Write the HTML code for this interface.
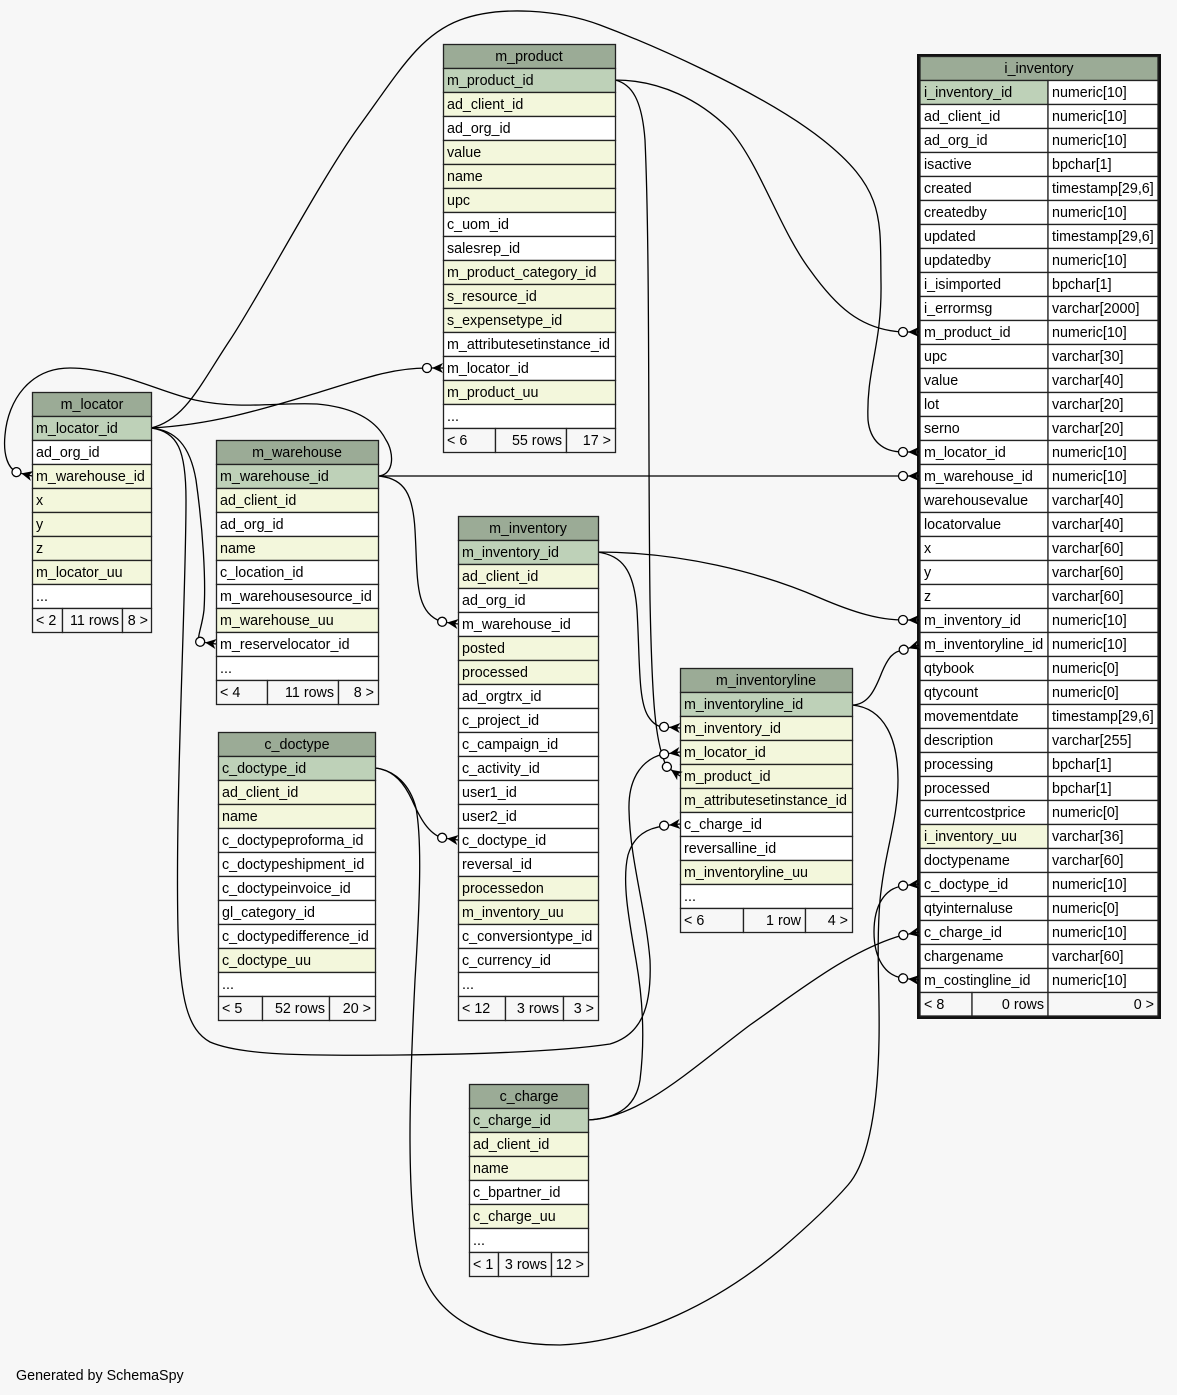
<!DOCTYPE html>
<html><head><meta charset="utf-8"><style>
html,body{margin:0;padding:0;background:#f7f7f7;}
svg{display:block;}
text{font-family:"Liberation Sans",Arial,Helvetica,sans-serif;font-size:14.3px;fill:#000;}
.h{fill:#9bab96;stroke:#222;stroke-width:1.3}
.p{fill:#bed1b8;stroke:#222;stroke-width:1.3}
.y{fill:#f3f7dc;stroke:#222;stroke-width:1.3}
.w{fill:#ffffff;stroke:#222;stroke-width:1.3}
.f{fill:#f7f7f7;stroke:#222;stroke-width:1.3}
.e{fill:none;stroke:#000;stroke-width:1.3}
.c{text-anchor:middle}
.r{text-anchor:end}
</style></head><body>
<svg width="1177" height="1395" viewBox="0 0 1177 1395" xmlns="http://www.w3.org/2000/svg">
<defs>
<g id="cf">
<line x1="-11" y1="0" x2="0" y2="0" stroke="#000" stroke-width="1.3"/>
<polygon points="0,-5 -11,0 0,5 -3,0" fill="#000"/>
<circle cx="-16" cy="0" r="4.5" fill="#fff" stroke="#000" stroke-width="1.3"/>
</g>
</defs>
<rect width="1177" height="1395" fill="#f7f7f7"/>

<!-- edges -->
<path class="e" d="M151,428 C185,420 200,385 230,340 S320,180 360,125 S420,35 460,20 S560,10 600,25 S760,90 823,140 S880,220 881,283 S866,370 868,420 C870,440 882,452 903,452"/>
<path class="e" d="M615,80 C660,80 700,100 730,130 C760,165 780,230 810,270 C835,305 860,330 903,332"/>
<path class="e" d="M615,80 C632,84 642,100 645,140 C650,250 648,450 650,600 C652,700 655,745 667,767"/>
<path class="e" d="M151,428 C210,425 260,410 310,395 C360,380 390,368 427,368"/>
<path class="e" d="M378,476 C395,475 394,452 386,440 C375,418 350,407 317,404 C280,402 240,410 195,400 C160,392 115,368 70,368 C30,368 8,400 5,435 C3,455 8,468 16.5,472"/>
<path class="e" d="M378,476 L903,476"/>
<path class="e" d="M378,476 C405,478 413,495 415,530 C418,580 414,612 442,622"/>
<path class="e" d="M151,428 C175,430 190,445 196,480 C203,530 206,580 204,610 C202,628 196,638 200,642"/>
<path class="e" d="M151,428 C178,432 186,450 186,500 C186,600 175,800 178,930 C180,1000 188,1030 210,1042 C240,1055 300,1056 400,1055 C500,1054 570,1050 610,1044 C640,1035 652,1010 650,960 C646,910 630,860 629,810 C628,775 645,758 664,754"/>
<path class="e" d="M375,768 C395,770 405,785 412,800 C420,818 428,833 442,838"/>
<path class="e" d="M375,768 C395,770 410,785 416,808 C422,840 420,900 415,980 C410,1080 405,1200 420,1265 C435,1320 490,1345 560,1345 C640,1342 720,1300 780,1250 C815,1220 835,1200 848,1185 C870,1160 878,1100 879,1040 C880,990 876,950 880,900 C885,850 898,820 898,780 C898,740 885,708 852,705"/>
<path class="e" d="M903,886 C885,888 874,905 874,932 C874,958 885,976 903,978"/>
<path class="e" d="M852,705 C868,705 875,690 882,672 C888,658 893,651 904,650"/>
<path class="e" d="M597,552 C680,552 760,572 820,598 C855,613 880,620 903,620"/>
<path class="e" d="M597,552 C622,555 634,570 637,610 C640,660 638,700 648,716 C653,724 658,727 664,727"/>
<path class="e" d="M588,1120 C640,1118 690,1070 750,1025 C800,990 850,950 903,935"/>
<path class="e" d="M588,1120 C620,1118 636,1105 640,1080 C645,1040 643,1000 636,960 C628,915 622,880 628,855 C634,835 648,828 664,826"/>

<!-- m_product -->
<rect class="h" x="443.5" y="44.5" width="172" height="24"/><text class="c" x="529" y="61">m_product</text>
<rect class="p" x="443.5" y="68.5" width="172" height="24"/><text x="447" y="85">m_product_id</text>
<rect class="y" x="443.5" y="92.5" width="172" height="24"/><text x="447" y="109">ad_client_id</text>
<rect class="w" x="443.5" y="116.5" width="172" height="24"/><text x="447" y="133">ad_org_id</text>
<rect class="y" x="443.5" y="140.5" width="172" height="24"/><text x="447" y="157">value</text>
<rect class="y" x="443.5" y="164.5" width="172" height="24"/><text x="447" y="181">name</text>
<rect class="y" x="443.5" y="188.5" width="172" height="24"/><text x="447" y="205">upc</text>
<rect class="w" x="443.5" y="212.5" width="172" height="24"/><text x="447" y="229">c_uom_id</text>
<rect class="w" x="443.5" y="236.5" width="172" height="24"/><text x="447" y="253">salesrep_id</text>
<rect class="y" x="443.5" y="260.5" width="172" height="24"/><text x="447" y="277">m_product_category_id</text>
<rect class="y" x="443.5" y="284.5" width="172" height="24"/><text x="447" y="301">s_resource_id</text>
<rect class="y" x="443.5" y="308.5" width="172" height="24"/><text x="447" y="325">s_expensetype_id</text>
<rect class="w" x="443.5" y="332.5" width="172" height="24"/><text x="447" y="349">m_attributesetinstance_id</text>
<rect class="w" x="443.5" y="356.5" width="172" height="24"/><text x="447" y="373">m_locator_id</text>
<rect class="y" x="443.5" y="380.5" width="172" height="24"/><text x="447" y="397">m_product_uu</text>
<rect class="w" x="443.5" y="404.5" width="172" height="24"/><text x="447" y="421">...</text>
<rect class="f" x="443.5" y="428.5" width="52" height="24"/><rect class="f" x="495.5" y="428.5" width="71" height="24"/><rect class="f" x="566.5" y="428.5" width="49" height="24"/>
<text x="447" y="445">&lt; 6</text><text class="r" x="562" y="445">55 rows</text><text class="r" x="611" y="445">17 &gt;</text>

<!-- m_locator -->
<rect class="h" x="32.5" y="392.5" width="119" height="24"/><text class="c" x="92" y="409">m_locator</text>
<rect class="p" x="32.5" y="416.5" width="119" height="24"/><text x="36" y="433">m_locator_id</text>
<rect class="w" x="32.5" y="440.5" width="119" height="24"/><text x="36" y="457">ad_org_id</text>
<rect class="y" x="32.5" y="464.5" width="119" height="24"/><text x="36" y="481">m_warehouse_id</text>
<rect class="y" x="32.5" y="488.5" width="119" height="24"/><text x="36" y="505">x</text>
<rect class="y" x="32.5" y="512.5" width="119" height="24"/><text x="36" y="529">y</text>
<rect class="y" x="32.5" y="536.5" width="119" height="24"/><text x="36" y="553">z</text>
<rect class="y" x="32.5" y="560.5" width="119" height="24"/><text x="36" y="577">m_locator_uu</text>
<rect class="w" x="32.5" y="584.5" width="119" height="24"/><text x="36" y="601">...</text>
<rect class="f" x="32.5" y="608.5" width="30" height="24"/><rect class="f" x="62.5" y="608.5" width="60" height="24"/><rect class="f" x="122.5" y="608.5" width="29" height="24"/>
<text x="36" y="625">&lt; 2</text><text class="r" x="119" y="625">11 rows</text><text class="r" x="148" y="625">8 &gt;</text>

<!-- m_warehouse -->
<rect class="h" x="216.5" y="440.5" width="162" height="24"/><text class="c" x="297" y="457">m_warehouse</text>
<rect class="p" x="216.5" y="464.5" width="162" height="24"/><text x="220" y="481">m_warehouse_id</text>
<rect class="y" x="216.5" y="488.5" width="162" height="24"/><text x="220" y="505">ad_client_id</text>
<rect class="w" x="216.5" y="512.5" width="162" height="24"/><text x="220" y="529">ad_org_id</text>
<rect class="y" x="216.5" y="536.5" width="162" height="24"/><text x="220" y="553">name</text>
<rect class="w" x="216.5" y="560.5" width="162" height="24"/><text x="220" y="577">c_location_id</text>
<rect class="w" x="216.5" y="584.5" width="162" height="24"/><text x="220" y="601">m_warehousesource_id</text>
<rect class="y" x="216.5" y="608.5" width="162" height="24"/><text x="220" y="625">m_warehouse_uu</text>
<rect class="w" x="216.5" y="632.5" width="162" height="24"/><text x="220" y="649">m_reservelocator_id</text>
<rect class="w" x="216.5" y="656.5" width="162" height="24"/><text x="220" y="673">...</text>
<rect class="f" x="216.5" y="680.5" width="51" height="24"/><rect class="f" x="267.5" y="680.5" width="71" height="24"/><rect class="f" x="338.5" y="680.5" width="40" height="24"/>
<text x="220" y="697">&lt; 4</text><text class="r" x="334" y="697">11 rows</text><text class="r" x="374" y="697">8 &gt;</text>

<!-- m_inventory -->
<rect class="h" x="458.5" y="516.5" width="140" height="24"/><text class="c" x="528" y="533">m_inventory</text>
<rect class="p" x="458.5" y="540.5" width="140" height="24"/><text x="462" y="557">m_inventory_id</text>
<rect class="y" x="458.5" y="564.5" width="140" height="24"/><text x="462" y="581">ad_client_id</text>
<rect class="w" x="458.5" y="588.5" width="140" height="24"/><text x="462" y="605">ad_org_id</text>
<rect class="w" x="458.5" y="612.5" width="140" height="24"/><text x="462" y="629">m_warehouse_id</text>
<rect class="y" x="458.5" y="636.5" width="140" height="24"/><text x="462" y="653">posted</text>
<rect class="y" x="458.5" y="660.5" width="140" height="24"/><text x="462" y="677">processed</text>
<rect class="w" x="458.5" y="684.5" width="140" height="24"/><text x="462" y="701">ad_orgtrx_id</text>
<rect class="w" x="458.5" y="708.5" width="140" height="24"/><text x="462" y="725">c_project_id</text>
<rect class="w" x="458.5" y="732.5" width="140" height="24"/><text x="462" y="749">c_campaign_id</text>
<rect class="w" x="458.5" y="756.5" width="140" height="24"/><text x="462" y="773">c_activity_id</text>
<rect class="w" x="458.5" y="780.5" width="140" height="24"/><text x="462" y="797">user1_id</text>
<rect class="w" x="458.5" y="804.5" width="140" height="24"/><text x="462" y="821">user2_id</text>
<rect class="w" x="458.5" y="828.5" width="140" height="24"/><text x="462" y="845">c_doctype_id</text>
<rect class="w" x="458.5" y="852.5" width="140" height="24"/><text x="462" y="869">reversal_id</text>
<rect class="y" x="458.5" y="876.5" width="140" height="24"/><text x="462" y="893">processedon</text>
<rect class="y" x="458.5" y="900.5" width="140" height="24"/><text x="462" y="917">m_inventory_uu</text>
<rect class="w" x="458.5" y="924.5" width="140" height="24"/><text x="462" y="941">c_conversiontype_id</text>
<rect class="w" x="458.5" y="948.5" width="140" height="24"/><text x="462" y="965">c_currency_id</text>
<rect class="w" x="458.5" y="972.5" width="140" height="24"/><text x="462" y="989">...</text>
<rect class="f" x="458.5" y="996.5" width="47" height="24"/><rect class="f" x="505.5" y="996.5" width="58" height="24"/><rect class="f" x="563.5" y="996.5" width="35" height="24"/>
<text x="462" y="1013">&lt; 12</text><text class="r" x="559" y="1013">3 rows</text><text class="r" x="594" y="1013">3 &gt;</text>

<!-- m_inventoryline -->
<rect class="h" x="680.5" y="668.5" width="172" height="24"/><text class="c" x="766" y="685">m_inventoryline</text>
<rect class="p" x="680.5" y="692.5" width="172" height="24"/><text x="684" y="709">m_inventoryline_id</text>
<rect class="y" x="680.5" y="716.5" width="172" height="24"/><text x="684" y="733">m_inventory_id</text>
<rect class="y" x="680.5" y="740.5" width="172" height="24"/><text x="684" y="757">m_locator_id</text>
<rect class="y" x="680.5" y="764.5" width="172" height="24"/><text x="684" y="781">m_product_id</text>
<rect class="y" x="680.5" y="788.5" width="172" height="24"/><text x="684" y="805">m_attributesetinstance_id</text>
<rect class="w" x="680.5" y="812.5" width="172" height="24"/><text x="684" y="829">c_charge_id</text>
<rect class="w" x="680.5" y="836.5" width="172" height="24"/><text x="684" y="853">reversalline_id</text>
<rect class="y" x="680.5" y="860.5" width="172" height="24"/><text x="684" y="877">m_inventoryline_uu</text>
<rect class="w" x="680.5" y="884.5" width="172" height="24"/><text x="684" y="901">...</text>
<rect class="f" x="680.5" y="908.5" width="63" height="24"/><rect class="f" x="743.5" y="908.5" width="62" height="24"/><rect class="f" x="805.5" y="908.5" width="47" height="24"/>
<text x="684" y="925">&lt; 6</text><text class="r" x="801" y="925">1 row</text><text class="r" x="848" y="925">4 &gt;</text>

<!-- c_doctype -->
<rect class="h" x="218.5" y="732.5" width="157" height="24"/><text class="c" x="297" y="749">c_doctype</text>
<rect class="p" x="218.5" y="756.5" width="157" height="24"/><text x="222" y="773">c_doctype_id</text>
<rect class="y" x="218.5" y="780.5" width="157" height="24"/><text x="222" y="797">ad_client_id</text>
<rect class="y" x="218.5" y="804.5" width="157" height="24"/><text x="222" y="821">name</text>
<rect class="w" x="218.5" y="828.5" width="157" height="24"/><text x="222" y="845">c_doctypeproforma_id</text>
<rect class="w" x="218.5" y="852.5" width="157" height="24"/><text x="222" y="869">c_doctypeshipment_id</text>
<rect class="w" x="218.5" y="876.5" width="157" height="24"/><text x="222" y="893">c_doctypeinvoice_id</text>
<rect class="w" x="218.5" y="900.5" width="157" height="24"/><text x="222" y="917">gl_category_id</text>
<rect class="w" x="218.5" y="924.5" width="157" height="24"/><text x="222" y="941">c_doctypedifference_id</text>
<rect class="y" x="218.5" y="948.5" width="157" height="24"/><text x="222" y="965">c_doctype_uu</text>
<rect class="w" x="218.5" y="972.5" width="157" height="24"/><text x="222" y="989">...</text>
<rect class="f" x="218.5" y="996.5" width="44" height="24"/><rect class="f" x="262.5" y="996.5" width="67" height="24"/><rect class="f" x="329.5" y="996.5" width="46" height="24"/>
<text x="222" y="1013">&lt; 5</text><text class="r" x="325" y="1013">52 rows</text><text class="r" x="371" y="1013">20 &gt;</text>

<!-- c_charge -->
<rect class="h" x="469.5" y="1084.5" width="119" height="24"/><text class="c" x="529" y="1101">c_charge</text>
<rect class="p" x="469.5" y="1108.5" width="119" height="24"/><text x="473" y="1125">c_charge_id</text>
<rect class="y" x="469.5" y="1132.5" width="119" height="24"/><text x="473" y="1149">ad_client_id</text>
<rect class="y" x="469.5" y="1156.5" width="119" height="24"/><text x="473" y="1173">name</text>
<rect class="w" x="469.5" y="1180.5" width="119" height="24"/><text x="473" y="1197">c_bpartner_id</text>
<rect class="y" x="469.5" y="1204.5" width="119" height="24"/><text x="473" y="1221">c_charge_uu</text>
<rect class="w" x="469.5" y="1228.5" width="119" height="24"/><text x="473" y="1245">...</text>
<rect class="f" x="469.5" y="1252.5" width="29" height="24"/><rect class="f" x="498.5" y="1252.5" width="53" height="24"/><rect class="f" x="551.5" y="1252.5" width="37" height="24"/>
<text x="473" y="1269">&lt; 1</text><text class="r" x="547" y="1269">3 rows</text><text class="r" x="584" y="1269">12 &gt;</text>

<!-- i_inventory -->
<rect x="918.5" y="55.5" width="241" height="962" fill="#fff" stroke="#111" stroke-width="3"/>
<rect class="h" x="920" y="56.5" width="238" height="24"/><text class="c" x="1039" y="73">i_inventory</text>
<g>
<rect class="p" x="920" y="80.5" width="128" height="24"/><rect class="w" x="1048" y="80.5" width="110" height="24"/><text x="924" y="97">i_inventory_id</text><text x="1052" y="97">numeric[10]</text>
<rect class="w" x="920" y="104.5" width="128" height="24"/><rect class="w" x="1048" y="104.5" width="110" height="24"/><text x="924" y="121">ad_client_id</text><text x="1052" y="121">numeric[10]</text>
<rect class="w" x="920" y="128.5" width="128" height="24"/><rect class="w" x="1048" y="128.5" width="110" height="24"/><text x="924" y="145">ad_org_id</text><text x="1052" y="145">numeric[10]</text>
<rect class="w" x="920" y="152.5" width="128" height="24"/><rect class="w" x="1048" y="152.5" width="110" height="24"/><text x="924" y="169">isactive</text><text x="1052" y="169">bpchar[1]</text>
<rect class="w" x="920" y="176.5" width="128" height="24"/><rect class="w" x="1048" y="176.5" width="110" height="24"/><text x="924" y="193">created</text><text x="1052" y="193">timestamp[29,6]</text>
<rect class="w" x="920" y="200.5" width="128" height="24"/><rect class="w" x="1048" y="200.5" width="110" height="24"/><text x="924" y="217">createdby</text><text x="1052" y="217">numeric[10]</text>
<rect class="w" x="920" y="224.5" width="128" height="24"/><rect class="w" x="1048" y="224.5" width="110" height="24"/><text x="924" y="241">updated</text><text x="1052" y="241">timestamp[29,6]</text>
<rect class="w" x="920" y="248.5" width="128" height="24"/><rect class="w" x="1048" y="248.5" width="110" height="24"/><text x="924" y="265">updatedby</text><text x="1052" y="265">numeric[10]</text>
<rect class="w" x="920" y="272.5" width="128" height="24"/><rect class="w" x="1048" y="272.5" width="110" height="24"/><text x="924" y="289">i_isimported</text><text x="1052" y="289">bpchar[1]</text>
<rect class="w" x="920" y="296.5" width="128" height="24"/><rect class="w" x="1048" y="296.5" width="110" height="24"/><text x="924" y="313">i_errormsg</text><text x="1052" y="313">varchar[2000]</text>
<rect class="w" x="920" y="320.5" width="128" height="24"/><rect class="w" x="1048" y="320.5" width="110" height="24"/><text x="924" y="337">m_product_id</text><text x="1052" y="337">numeric[10]</text>
<rect class="w" x="920" y="344.5" width="128" height="24"/><rect class="w" x="1048" y="344.5" width="110" height="24"/><text x="924" y="361">upc</text><text x="1052" y="361">varchar[30]</text>
<rect class="w" x="920" y="368.5" width="128" height="24"/><rect class="w" x="1048" y="368.5" width="110" height="24"/><text x="924" y="385">value</text><text x="1052" y="385">varchar[40]</text>
<rect class="w" x="920" y="392.5" width="128" height="24"/><rect class="w" x="1048" y="392.5" width="110" height="24"/><text x="924" y="409">lot</text><text x="1052" y="409">varchar[20]</text>
<rect class="w" x="920" y="416.5" width="128" height="24"/><rect class="w" x="1048" y="416.5" width="110" height="24"/><text x="924" y="433">serno</text><text x="1052" y="433">varchar[20]</text>
<rect class="w" x="920" y="440.5" width="128" height="24"/><rect class="w" x="1048" y="440.5" width="110" height="24"/><text x="924" y="457">m_locator_id</text><text x="1052" y="457">numeric[10]</text>
<rect class="w" x="920" y="464.5" width="128" height="24"/><rect class="w" x="1048" y="464.5" width="110" height="24"/><text x="924" y="481">m_warehouse_id</text><text x="1052" y="481">numeric[10]</text>
<rect class="w" x="920" y="488.5" width="128" height="24"/><rect class="w" x="1048" y="488.5" width="110" height="24"/><text x="924" y="505">warehousevalue</text><text x="1052" y="505">varchar[40]</text>
<rect class="w" x="920" y="512.5" width="128" height="24"/><rect class="w" x="1048" y="512.5" width="110" height="24"/><text x="924" y="529">locatorvalue</text><text x="1052" y="529">varchar[40]</text>
<rect class="w" x="920" y="536.5" width="128" height="24"/><rect class="w" x="1048" y="536.5" width="110" height="24"/><text x="924" y="553">x</text><text x="1052" y="553">varchar[60]</text>
<rect class="w" x="920" y="560.5" width="128" height="24"/><rect class="w" x="1048" y="560.5" width="110" height="24"/><text x="924" y="577">y</text><text x="1052" y="577">varchar[60]</text>
<rect class="w" x="920" y="584.5" width="128" height="24"/><rect class="w" x="1048" y="584.5" width="110" height="24"/><text x="924" y="601">z</text><text x="1052" y="601">varchar[60]</text>
<rect class="w" x="920" y="608.5" width="128" height="24"/><rect class="w" x="1048" y="608.5" width="110" height="24"/><text x="924" y="625">m_inventory_id</text><text x="1052" y="625">numeric[10]</text>
<rect class="w" x="920" y="632.5" width="128" height="24"/><rect class="w" x="1048" y="632.5" width="110" height="24"/><text x="924" y="649">m_inventoryline_id</text><text x="1052" y="649">numeric[10]</text>
<rect class="w" x="920" y="656.5" width="128" height="24"/><rect class="w" x="1048" y="656.5" width="110" height="24"/><text x="924" y="673">qtybook</text><text x="1052" y="673">numeric[0]</text>
<rect class="w" x="920" y="680.5" width="128" height="24"/><rect class="w" x="1048" y="680.5" width="110" height="24"/><text x="924" y="697">qtycount</text><text x="1052" y="697">numeric[0]</text>
<rect class="w" x="920" y="704.5" width="128" height="24"/><rect class="w" x="1048" y="704.5" width="110" height="24"/><text x="924" y="721">movementdate</text><text x="1052" y="721">timestamp[29,6]</text>
<rect class="w" x="920" y="728.5" width="128" height="24"/><rect class="w" x="1048" y="728.5" width="110" height="24"/><text x="924" y="745">description</text><text x="1052" y="745">varchar[255]</text>
<rect class="w" x="920" y="752.5" width="128" height="24"/><rect class="w" x="1048" y="752.5" width="110" height="24"/><text x="924" y="769">processing</text><text x="1052" y="769">bpchar[1]</text>
<rect class="w" x="920" y="776.5" width="128" height="24"/><rect class="w" x="1048" y="776.5" width="110" height="24"/><text x="924" y="793">processed</text><text x="1052" y="793">bpchar[1]</text>
<rect class="w" x="920" y="800.5" width="128" height="24"/><rect class="w" x="1048" y="800.5" width="110" height="24"/><text x="924" y="817">currentcostprice</text><text x="1052" y="817">numeric[0]</text>
<rect class="y" x="920" y="824.5" width="128" height="24"/><rect class="w" x="1048" y="824.5" width="110" height="24"/><text x="924" y="841">i_inventory_uu</text><text x="1052" y="841">varchar[36]</text>
<rect class="w" x="920" y="848.5" width="128" height="24"/><rect class="w" x="1048" y="848.5" width="110" height="24"/><text x="924" y="865">doctypename</text><text x="1052" y="865">varchar[60]</text>
<rect class="w" x="920" y="872.5" width="128" height="24"/><rect class="w" x="1048" y="872.5" width="110" height="24"/><text x="924" y="889">c_doctype_id</text><text x="1052" y="889">numeric[10]</text>
<rect class="w" x="920" y="896.5" width="128" height="24"/><rect class="w" x="1048" y="896.5" width="110" height="24"/><text x="924" y="913">qtyinternaluse</text><text x="1052" y="913">numeric[0]</text>
<rect class="w" x="920" y="920.5" width="128" height="24"/><rect class="w" x="1048" y="920.5" width="110" height="24"/><text x="924" y="937">c_charge_id</text><text x="1052" y="937">numeric[10]</text>
<rect class="w" x="920" y="944.5" width="128" height="24"/><rect class="w" x="1048" y="944.5" width="110" height="24"/><text x="924" y="961">chargename</text><text x="1052" y="961">varchar[60]</text>
<rect class="w" x="920" y="968.5" width="128" height="24"/><rect class="w" x="1048" y="968.5" width="110" height="24"/><text x="924" y="985">m_costingline_id</text><text x="1052" y="985">numeric[10]</text>
<rect class="f" x="920" y="992.5" width="52" height="23.5"/><rect class="f" x="972" y="992.5" width="76" height="23.5"/><rect class="f" x="1048" y="992.5" width="110" height="23.5"/>
<text x="924" y="1009">&lt; 8</text><text class="r" x="1044" y="1009">0 rows</text><text class="r" x="1154" y="1009">0 &gt;</text>
</g>

<!-- arrowheads -->
<use href="#cf" transform="translate(919,332)"/>
<use href="#cf" transform="translate(919,452)"/>
<use href="#cf" transform="translate(919,476)"/>
<use href="#cf" transform="translate(919,620)"/>
<use href="#cf" transform="translate(919,645) rotate(-17)"/>
<use href="#cf" transform="translate(919,884) rotate(-6)"/>
<use href="#cf" transform="translate(919,932) rotate(-11)"/>
<use href="#cf" transform="translate(919,980) rotate(6)"/>
<use href="#cf" transform="translate(443,368)"/>
<use href="#cf" transform="translate(32,476) rotate(14)"/>
<use href="#cf" transform="translate(216,644) rotate(8)"/>
<use href="#cf" transform="translate(458,624) rotate(8)"/>
<use href="#cf" transform="translate(458,840) rotate(8)"/>
<use href="#cf" transform="translate(680,728) rotate(4)"/>
<use href="#cf" transform="translate(680,752) rotate(-8)"/>
<use href="#cf" transform="translate(680,776) rotate(35)"/>
<use href="#cf" transform="translate(680,824) rotate(-6)"/>

<text x="16" y="1380">Generated by SchemaSpy</text>
</svg>
</body></html>
